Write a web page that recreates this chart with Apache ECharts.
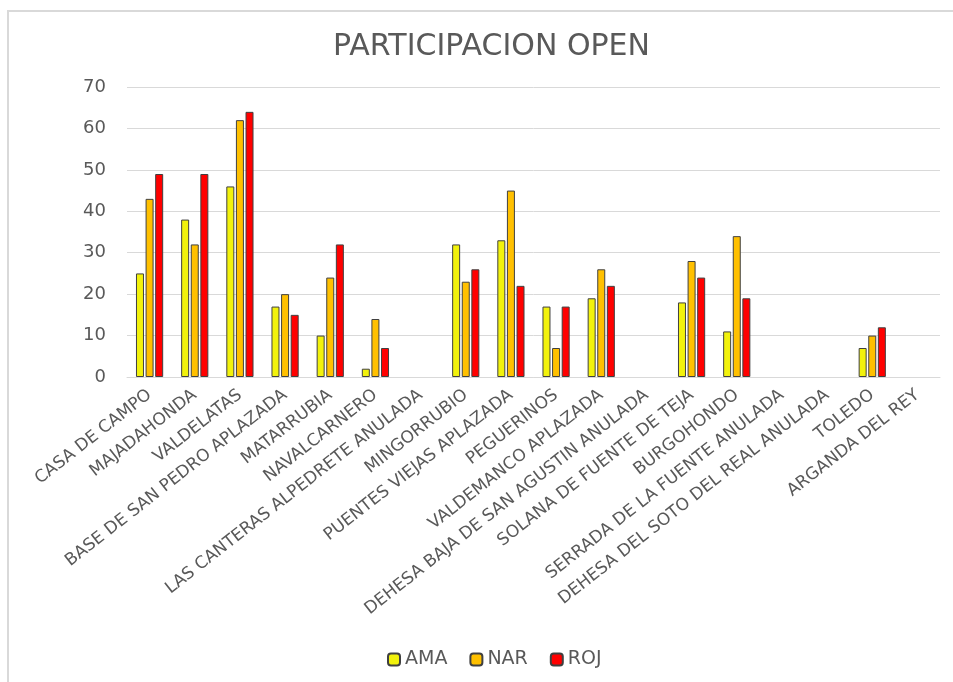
<!DOCTYPE html>
<html>
<head>
<meta charset="utf-8">
<script src="https://cdn.jsdelivr.net/npm/echarts@6/dist/echarts.min.js"></script>
<style>
  html, body { margin: 0; padding: 0; background: #fff; overflow: hidden; }
  #main { width: 953px; height: 682px; }
  /* marco gris del gráfico (solo borde superior e izquierdo visibles) */
  #frame { position: absolute; left: 7px; top: 10px; right: -20px; bottom: -20px;
           border-left: 2px solid #d9d9d9; border-top: 2px solid #d9d9d9; pointer-events: none; }
</style>
</head>
<body>
<div id="frame"></div>
<div id="main"></div>
<script>
// categorías (pruebas)
const categorias = [
  'CASA DE CAMPO', 'MAJADAHONDA', 'VALDELATAS', 'BASE DE SAN PEDRO APLAZADA',
  'MATARRUBIA', 'NAVALCARNERO', 'LAS CANTERAS ALPEDRETE ANULADA', 'MINGORRUBIO',
  'PUENTES VIEJAS APLAZADA', 'PEGUERINOS', 'VALDEMANCO APLAZADA',
  'DEHESA BAJA DE SAN AGUSTIN ANULADA', 'SOLANA DE FUENTE DE TEJA', 'BURGOHONDO',
  'SERRADA DE LA FUENTE ANULADA', 'DEHESA DEL SOTO DEL REAL ANULADA', 'TOLEDO', 'ARGANDA DEL REY'
]

// valores por serie (null = sin datos)
const ama = [25, 38, 46, 17, 10, 2, null, 32, 33, 17, 19, null, 18, 11, null, null, 7, null]
const nar = [43, 32, 62, 20, 24, 14, null, 23, 45, 7, 26, null, 28, 34, null, null, 10, null]
const roj = [49, 49, 64, 15, 32, 7, null, 26, 22, 17, 22, null, 24, 19, null, null, 12, null]

const yTicks = { min: 0, max: 70, interval: 10 }

const FONT = '"DejaVu Sans", sans-serif'
const TXT = '#595959'

const chart = echarts.init(document.getElementById('main'), null, { renderer: 'canvas' })

function serie(name, data, color) {
  return {
    name: name,
    type: 'bar',
    data: data,
    barWidth: 8,
    barGap: '20%',
    itemStyle: { color: color, borderColor: '#404040', borderWidth: 1 }
  }
}

const option = {
  backgroundColor: 'transparent',
  animation: false,
  title: {
    text: 'PARTICIPACION OPEN',
    left: 328,
    top: 27,
    textStyle: { fontFamily: FONT, fontSize: 30, fontWeight: 'normal', color: TXT }
  },
  legend: {
    bottom: 8,
    left: 382,
    itemWidth: 12,
    itemHeight: 12,
    itemGap: 22,
    textStyle: { fontFamily: FONT, fontSize: 19, color: TXT },
    data: ['AMA', 'NAR', 'ROJ']
  },
  grid: { left: 127, right: 13, top: 87, bottom: 305, containLabel: false },
  xAxis: {
    type: 'category',
    data: categorias,
    axisLine: { lineStyle: { color: '#d9d9d9', width: 1 } },
    axisTick: { show: false },
    axisLabel: {
      interval: 0,
      rotate: 38,
      margin: 16,
      fontFamily: FONT,
      fontSize: 17,
      color: TXT
    }
  },
  yAxis: {
    type: 'value',
    min: yTicks.min,
    max: yTicks.max,
    interval: yTicks.interval,
    axisLine: { show: false },
    axisTick: { show: false },
    splitLine: { lineStyle: { color: '#d9d9d9', width: 1 } },
    axisLabel: { fontFamily: FONT, fontSize: 18, color: TXT, margin: 21 }
  },
  series: [
    serie('AMA', ama, '#f2f20c'),
    serie('NAR', nar, '#ffc000'),
    serie('ROJ', roj, '#ff0000')
  ]
}

chart.setOption(option)
</script>
</body>
</html>
